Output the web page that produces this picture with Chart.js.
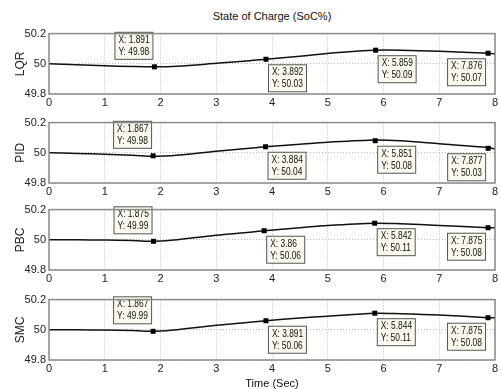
<!DOCTYPE html>
<html>
<head>
<meta charset="utf-8">
<script src="https://cdn.jsdelivr.net/npm/chart.js@4.4.0/dist/chart.umd.min.js"></script>
<style>
  body { margin: 0; background: #fff; width: 501px; height: 389px; position: relative; overflow: hidden;
         font-family: Arial, "Liberation Sans", sans-serif; }
  .plot { position: absolute; left: 0; width: 501px; }
  #title { position: absolute; top: 10px; left: 49px; width: 446px; text-align: center; font-size: 11px; color: #111; }
  #xlab { position: absolute; top: 377px; left: 49px; width: 446px; text-align: center; font-size: 11px; color: #111; }
</style>
</head>
<body>
<div id="title">State of Charge (SoC%)</div>
<div class="plot" style="top:24px;height:88px"><canvas id="c0"></canvas></div>
<div class="plot" style="top:113px;height:88px"><canvas id="c1"></canvas></div>
<div class="plot" style="top:200px;height:88px"><canvas id="c2"></canvas></div>
<div class="plot" style="top:290px;height:88px"><canvas id="c3"></canvas></div>
<div id="xlab">Time (Sec)</div>
<script>
// axes
const xTicks = [0, 1, 2, 3, 4, 5, 6, 7, 8];
const yTicks = [49.8, 50, 50.2];
const names = ['LQR', 'PID', 'PBC', 'SMC'];

// SoC curves
const lqrTime = [0, 0.5, 1, 1.5, 1.891, 2.3, 3, 3.6, 3.892, 4.5, 5.2, 5.859, 6.3, 7, 7.876, 8];
const lqrSoc  = [50, 49.994, 49.987, 49.982, 49.98, 49.984, 50.003, 50.02, 50.03, 50.05, 50.075, 50.09, 50.09, 50.083, 50.07, 50.066];
const pidTime = [0, 0.5, 1, 1.5, 1.867, 2.2, 3, 3.6, 3.884, 4.5, 5, 5.851, 6.3, 7, 7.877, 8];
const pidSoc  = [50, 49.996, 49.99, 49.984, 49.977, 49.98, 50.01, 50.03, 50.04, 50.057, 50.07, 50.085, 50.08, 50.06, 50.035, 50.026];
const pbcTime = [0, 0.5, 1, 1.5, 1.875, 2.1, 3, 3.6, 3.86, 4.5, 5, 5.842, 6.3, 7, 7.875, 8];
const pbcSoc  = [50, 50, 49.998, 49.995, 49.99, 49.993, 50.03, 50.05, 50.06, 50.08, 50.095, 50.11, 50.106, 50.095, 50.08, 50.08];
const smcTime = [0, 0.5, 1, 1.5, 1.867, 2.1, 3, 3.6, 3.891, 4.5, 5, 5.844, 6.3, 7, 7.875, 8];
const smcSoc  = [50, 50, 49.998, 49.995, 49.99, 49.993, 50.03, 50.05, 50.06, 50.078, 50.09, 50.11, 50.107, 50.098, 50.08, 50.08];

// data tips
const lqrTipX = [1.891, 3.892, 5.859, 7.876];
const lqrTipY = [49.98, 50.03, 50.09, 50.07];
const pidTipX = [1.867, 3.884, 5.851, 7.877];
const pidTipY = [49.98, 50.04, 50.08, 50.03];
const pbcTipX = [1.875, 3.86, 5.842, 7.875];
const pbcTipY = [49.99, 50.06, 50.11, 50.08];
const smcTipX = [1.867, 3.891, 5.844, 7.875];
const smcTipY = [49.99, 50.06, 50.11, 50.08];

const times = [lqrTime, pidTime, pbcTime, smcTime];
const socs = [lqrSoc, pidSoc, pbcSoc, smcSoc];
const tipXs = [lqrTipX, pidTipX, pbcTipX, smcTipX];
const tipYs = [lqrTipY, pidTipY, pbcTipY, smcTipY];
const tipPlace = ['ul', 'dr', 'dr', 'dl'];

const font = 'Arial, "Liberation Sans", sans-serif';

const framePlugin = {
  id: 'frame',
  afterDraw(chart) {
    const a = chart.chartArea, c = chart.ctx;
    c.save();
    c.strokeStyle = '#8a8a8a';
    c.lineWidth = 1.5;
    c.strokeRect(a.left, a.top, a.right - a.left, a.bottom - a.top);
    c.restore();
  }
};

// squeezed text, the original uses a narrow face
function narrowText(c, s, x, y) {
  c.save();
  c.translate(x, y);
  c.scale(0.8, 1);
  c.fillText(s, 0, 0);
  c.restore();
}

const tipPlugin = {
  id: 'tips',
  afterDatasetsDraw(chart, args, opts) {
    const c = chart.ctx, xs = chart.scales.x, ys = chart.scales.y;
    c.save();
    opts.x.forEach((xv, i) => {
      const px = xs.getPixelForValue(xv), py = ys.getPixelForValue(opts.y[i]);
      c.fillStyle = '#000';
      c.fillRect(px - 2.5, py - 2.5, 5, 5);
      const w = 38, h = 27;
      let bx, by;
      if (tipPlace[i] == 'ul') { bx = px - 2 - w; by = py - 8 - h; }
      else if (tipPlace[i] == 'dr') { bx = px + 2; by = py + 5; }
      else { bx = px - 3 - w; by = py + 5; }
      c.fillStyle = '#fbf9ee';
      c.fillRect(bx, by, w, h);
      c.strokeStyle = '#555';
      c.lineWidth = 1;
      c.strokeRect(bx + 0.5, by + 0.5, w, h);
      c.fillStyle = '#111';
      c.font = '10.5px ' + font;
      c.textBaseline = 'middle';
      narrowText(c, 'X: ' + String(xv), bx + 4, by + 8);
      narrowText(c, 'Y: ' + String(opts.y[i]), bx + 4, by + 20);
    });
    c.restore();
  }
};

for (let k = 0; k < 4; k++) {
  const ctx = document.getElementById('c' + k);
  new Chart(ctx, {
    type: 'line',
    data: {
      datasets: [{
        data: times[k].map((t, i) => ({ x: t, y: socs[k][i] })),
        borderColor: '#111',
        borderWidth: 1.5,
        pointRadius: 0,
        tension: 0.3,
        fill: false
      }]
    },
    options: {
      responsive: true,
      maintainAspectRatio: false,
      animation: false,
      layout: { padding: { top: 8, right: 6, left: 13, bottom: 0 } },
      plugins: {
        legend: { display: false },
        tooltip: { enabled: false },
        tips: { x: tipXs[k], y: tipYs[k] }
      },
      scales: {
        x: {
          type: 'linear', min: 0, max: 8,
          afterBuildTicks: (ax) => { ax.ticks = xTicks.map(v => ({ value: v })); },
          afterFit: (ax) => { ax.height = 18; },
          ticks: { color: '#222', font: { size: 11, family: font }, padding: 2, maxRotation: 0 },
          grid: { color: '#b8b8b8', drawTicks: false, lineWidth: 1 },
          border: { display: false, dash: [1, 2] }
        },
        y: {
          type: 'linear', min: 49.8, max: 50.2,
          title: { display: true, text: names[k], color: '#222', font: { size: 12, family: font }, padding: 0 },
          afterBuildTicks: (ax) => { ax.ticks = yTicks.map(v => ({ value: v })); },
          afterFit: (ax) => { ax.width = 36; },
          ticks: { color: '#222', font: { size: 11, family: font }, padding: 3, callback: (v) => String(v) },
          grid: { color: '#b8b8b8', drawTicks: false, lineWidth: 1 },
          border: { display: false, dash: [1, 2] }
        }
      }
    },
    plugins: [framePlugin, tipPlugin]
  });
}
</script>
</body>
</html>
